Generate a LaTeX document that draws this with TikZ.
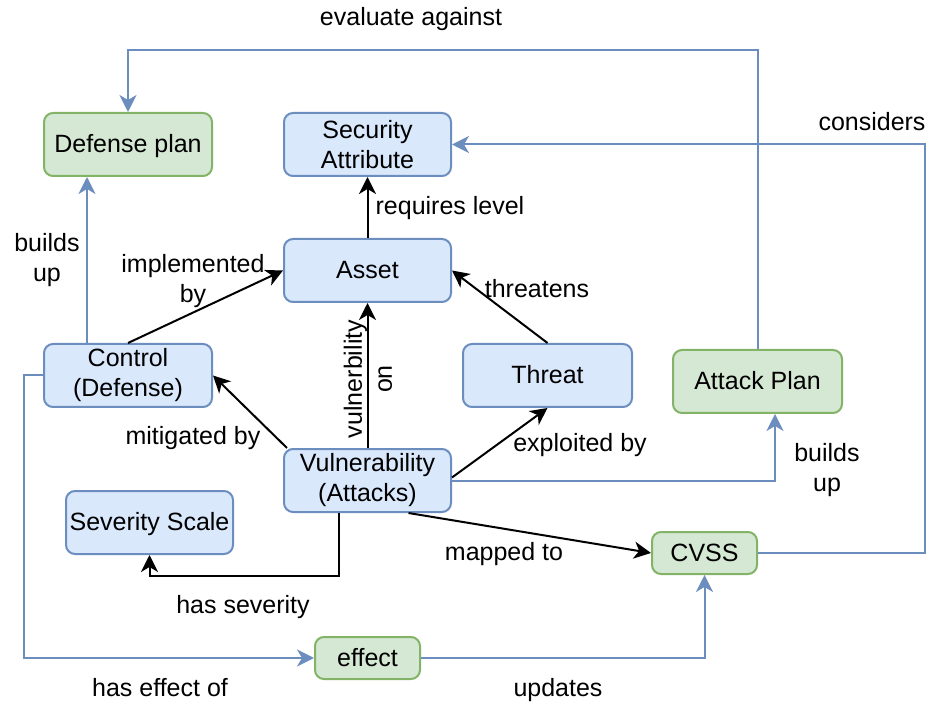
\documentclass[tikz,border=0pt]{standalone}
\usepackage{fontspec}
\setmainfont{Liberation Sans}
\usetikzlibrary{arrows.meta,calc}
\definecolor{bluefill}{HTML}{DAE8FC}
\definecolor{bluedraw}{HTML}{6C8EBF}
\definecolor{greenfill}{HTML}{D5E8D4}
\definecolor{greendraw}{HTML}{82B366}
\begin{document}
\begin{tikzpicture}[x=1pt,y=-1pt,
  font=\fontsize{25}{30}\selectfont,
  box/.style={draw, rounded corners=9pt, line width=2pt, align=center, inner sep=0pt},
  bluebox/.style={box, draw=bluedraw, fill=bluefill},
  greenbox/.style={box, draw=greendraw, fill=greenfill},
  oneline/.style={text height=18pt, text depth=2pt},
  tip/.style={-{Stealth[length=17pt,width=17pt,inset=5pt]}},
  blk/.style={draw=black, line width=2pt, tip},
  blu/.style={draw=bluedraw, line width=2pt, tip},
  lbl/.style={align=center, inner sep=0pt}]
  \useasboundingbox (0,0) rectangle (927,703);

  % concept boxes
  \node[greenbox, oneline, minimum width=168pt, minimum height=63pt] (defp) at (128,144.5) {Defense plan};
  \node[bluebox, minimum width=167pt, minimum height=63pt] (sec) at (367.5,144.5) {Security\\Attribute};
  \node[bluebox, oneline, minimum width=167pt, minimum height=63pt] (asset) at (367.5,270.5) {Asset};
  \node[bluebox, minimum width=168pt, minimum height=63pt] (ctrl) at (128,375.5) {Control\\(Defense)};
  \node[bluebox, oneline, minimum width=169pt, minimum height=63pt] (threat) at (547.5,375.5) {Threat};
  \node[greenbox, oneline, minimum width=169pt, minimum height=63pt] (atk) at (757.5,381.5) {Attack Plan};
  \node[bluebox, minimum width=167pt, minimum height=63pt] (vuln) at (367.5,480.5) {Vulnerability\\(Attacks)};
  \node[bluebox, oneline, minimum width=167pt, minimum height=63pt] (sev) at (149.5,522.5) {Severity Scale};
  \node[greenbox, oneline, minimum width=105pt, minimum height=42pt] (cvss) at (704.5,553) {CVSS};
  \node[greenbox, oneline, minimum width=105pt, minimum height=42pt] (eff) at (367.5,658) {effect};

  % routing guides
  \coordinate (toprail) at (0,50);
  \coordinate (rightrail) at (925,0);
  \coordinate (leftrail) at (24,0);

  % black relations
  \draw[blk] (asset.north) -- (sec.south);
  \draw[blk] (ctrl.north) -- (asset.west);
  \draw[blk] (vuln.north) -- (asset.south);
  \draw[blk] ($(vuln.north west)+(4,0)$) -- (ctrl.east);
  \draw[blk] ($(vuln.east)+(0,-3)$) -- (threat.south);
  \draw[blk] (threat.north) -- (asset.east);
  \draw[blk] ($(vuln.south)+(41,0)$) -- (cvss.west);
  \draw[blk] ($(vuln.south)+(-29,0)$) -- ++(0,63) -| (sev.south);

  % blue relations
  \draw[blu] (vuln.east) -| ($(atk.south)+(17.5,0)$);
  \draw[blu] (atk.north) -- (atk.north |- toprail) -| (defp.north);
  \draw[blu] (cvss.east) -- (cvss.east -| rightrail) |- (sec.east);
  \draw[blu] (ctrl.west) -- (ctrl.west -| leftrail) |- (eff.west);
  \draw[blu] (eff.east) -| (cvss.south);
  \draw[blu] ($(ctrl.north)+(-41,0)$) -- ($(defp.south)+(-41,0)$);

  % relation labels
  \node[lbl, oneline] (lEval) at (411,18) {evaluate against};
  \node[lbl, oneline] (lCons) at (872,123) {considers};
  \node[lbl, oneline] (lReq) at (450,207) {requires level};
  \node[lbl] (lBuildL) at (47,260) {builds\\up};
  \node[lbl] (lImpl) at (193,281) {implemented\\by};
  \node[lbl, oneline] (lThr) at (537,290) {threatens};
  \node[lbl, rotate=90] (lVon) at (368,379) {vulnerbility\\on};
  \node[lbl, oneline] (lMit) at (193,437) {mitigated by};
  \node[lbl, oneline] (lExp) at (580,443) {exploited by};
  \node[lbl] (lBuildR) at (827,470) {builds\\up};
  \node[lbl, oneline] (lMap) at (504,552) {mapped to};
  \node[lbl, oneline] (lSev) at (243,605) {has severity};
  \node[lbl, oneline] (lEff) at (160,688) {has effect of};
  \node[lbl, oneline] (lUpd) at (558,688) {updates};
\end{tikzpicture}
\end{document}
